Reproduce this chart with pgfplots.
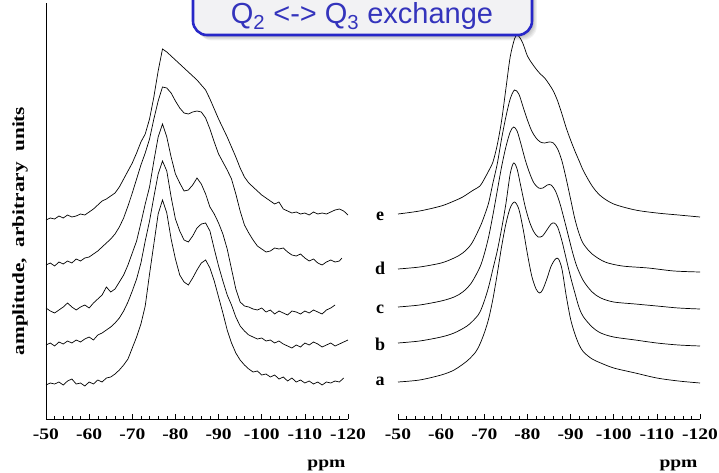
\documentclass[border=0pt]{standalone}
\usepackage{pgfplots}
\pgfplotsset{compat=1.18}
\usepackage{fontspec}
\setmainfont{Liberation Serif}
\newfontfamily\arial{Liberation Sans}
\definecolor{titleblue}{RGB}{52,52,188}
\definecolor{boxblue}{RGB}{40,40,200}
\definecolor{boxfill}{RGB}{242,242,244}
\newcommand\tickfont{\bfseries\fontsize{16}{18}\selectfont}
\newcommand\wide[1]{\scalebox{1.22}[1]{#1}}

\pgfplotsset{
  spectra/.style={
    scale only axis, width=302pt, height=416pt,
    xmin=-120, xmax=-50, x dir=reverse, ymin=0, ymax=416,
    axis x line=bottom,
    xtick={-50,-60,-70,-80,-90,-100,-110,-120},
    xticklabels={\wide{-50},\wide{-60},\wide{-70},\wide{-80},\wide{-90},\wide{-100},\wide{-110},\wide{-120}},
    minor x tick num=4, tick align=inside,
    major tick length=5pt, minor tick length=3pt,
    every tick/.style={black, line width=0.5pt},
    ytick=\empty,
    xticklabel style={font=\tickfont, anchor=base, yshift=-20pt},
    clip=false,
    every axis plot/.append style={black, line width=0.7pt, mark=none},
  },
  plain lines/.style={
    x axis line style={-, line width=0.7pt},
    y axis line style={-, line width=0.7pt},
  },
}

\begin{document}
\begin{tikzpicture}
\path[use as bounding box] (0,0) rectangle (719pt,472pt);
\clip (0,0) rectangle (719pt,472pt);

% measured spectra
\begin{axis}[spectra, at={(46pt,53pt)}, anchor=south west, axis y line=left, plain lines]
% a
\addplot[sharp plot] coordinates {(-50,34) (-51,36) (-52,35) (-53,37) (-54,34) (-55,38) (-56,40) (-57,35) (-58,36) (-59,33) (-60,37) (-61,35) (-62,39) (-63,37) (-64,41) (-65,42) (-66,45) (-67,49) (-68,54) (-69,60) (-70,71) (-71,82) (-72,95) (-73,113) (-74,145) (-75,175) (-76,205) (-77,219) (-78,206) (-79,180) (-80,160) (-81,144) (-82,137) (-83,134) (-84,141) (-85,149) (-86,156) (-87,159) (-88,151) (-89,138) (-90,122) (-91,106) (-92,89) (-93,76) (-94,66) (-95,59) (-96,54) (-97,50) (-98,47) (-99,48) (-100,44) (-101,45) (-102,42) (-103,44) (-104,40) (-105,42) (-106,38) (-107,41) (-108,37) (-109,39) (-110,36) (-111,38) (-112,35) (-113,37) (-114,34) (-115,37) (-116,36) (-117,38) (-118,37) (-119,41)};
% b
\addplot[sharp plot] coordinates {(-50,74) (-51,76) (-52,73) (-53,77) (-54,75) (-55,78) (-56,76) (-57,79) (-58,77) (-59,80) (-60,82) (-61,79) (-62,84) (-63,86) (-64,89) (-65,92) (-66,96) (-67,101) (-68,108) (-69,117) (-70,128) (-71,140) (-72,156) (-73,178) (-74,198) (-75,222) (-76,245) (-77,258) (-78,248) (-79,222) (-80,200) (-81,188) (-82,179) (-83,177) (-84,183) (-85,191) (-86,195) (-87,196) (-88,188) (-89,170) (-90,153) (-91,138) (-92,124) (-93,114) (-94,102) (-95,93) (-96,88) (-97,84) (-98,82) (-99,80) (-100,81) (-101,78) (-102,79) (-103,76) (-104,78) (-105,75) (-106,73) (-107,71) (-108,74) (-109,72) (-110,76) (-111,74) (-112,77) (-113,75) (-114,72) (-115,74) (-116,76) (-117,73) (-118,75) (-119,77) (-120,79)};
% c
\addplot[sharp plot] coordinates {(-50,111) (-51,108) (-52,106) (-53,109) (-54,112) (-55,116) (-56,112) (-57,109) (-58,112) (-59,114) (-60,111) (-61,116) (-62,120) (-63,124) (-64,132) (-65,127) (-66,130) (-67,137) (-68,144) (-69,154) (-70,166) (-71,178) (-72,196) (-73,215) (-74,232) (-75,258) (-76,282) (-77,295) (-78,282) (-79,262) (-80,245) (-81,236) (-82,228) (-83,229) (-84,234) (-85,241) (-86,235) (-87,225) (-88,212) (-89,205) (-90,196) (-91,185) (-92,170) (-93,150) (-94,130) (-95,117) (-96,113) (-97,112) (-98,110) (-99,109) (-100,111) (-101,107) (-102,109) (-103,105) (-104,108) (-105,106) (-106,104) (-107,108) (-108,107) (-109,105) (-110,108) (-111,106) (-112,109) (-113,107) (-114,105) (-115,109) (-116,111) (-117,114)};
% d
\addplot[sharp plot] coordinates {(-50,154) (-51,156) (-52,153) (-53,157) (-54,155) (-55,158) (-56,156) (-57,160) (-58,158) (-59,161) (-60,162) (-61,165) (-62,168) (-63,172) (-64,176) (-65,180) (-66,185) (-67,192) (-68,201) (-69,213) (-70,226) (-71,240) (-72,254) (-73,266) (-74,280) (-75,300) (-76,318) (-77,332) (-78,331) (-79,326) (-80,318) (-81,311) (-82,306) (-83,305) (-84,307) (-85,308) (-86,307) (-87,301) (-88,290) (-89,277) (-90,265) (-91,257) (-92,249) (-93,240) (-94,225) (-95,208) (-96,194) (-97,186) (-98,179) (-99,173) (-100,170) (-101,167) (-102,168) (-103,171) (-104,170) (-105,171) (-106,167) (-107,164) (-108,163) (-109,165) (-110,161) (-111,158) (-112,160) (-113,156) (-114,154) (-115,157) (-116,159) (-117,157) (-118,158) (-118.6,161)};
% e
\addplot[sharp plot] coordinates {(-50,199) (-51,201) (-52,200) (-53,203) (-54,201) (-55,204) (-56,202) (-57,203) (-58,205) (-59,204) (-60,207) (-61,210) (-62,214) (-63,218) (-64,220) (-65,223) (-66,226) (-67,232) (-68,240) (-69,248) (-70,256) (-71,266) (-72,277) (-73,285) (-74,300) (-75,322) (-76,348) (-77,370) (-78,367) (-79,363) (-80,359) (-81,355) (-82,351) (-83,347) (-84,343) (-85,339) (-86,334) (-87,329) (-88,320) (-89,310) (-90,300) (-91,291) (-92,282) (-93,272) (-94,262) (-95,251) (-96,242) (-97,236) (-98,232) (-99,228) (-100,224) (-101,221) (-102,218) (-103,215) (-104,217) (-105,210) (-106,208) (-107,206) (-108,207) (-109,205) (-110,206) (-111,204) (-112,207) (-113,205) (-114,206) (-115,205) (-116,207) (-117,209) (-118,210) (-119,208) (-120,204)};
\node[font=\tickfont, anchor=base east] at (rel axis cs:1,0) [yshift=-48pt, xshift=1pt] {\wide{ppm}};
\end{axis}

% simulated spectra
\begin{axis}[spectra, at={(398pt,53pt)}, anchor=south west, axis y line=none, plain lines]
% a
\addplot[smooth] coordinates {(-50,37) (-55,39) (-60,44) (-63,49) (-66,58) (-68,67) (-69,75) (-70,86) (-71,100) (-72,120) (-73,145) (-74,172) (-75,195) (-76,211) (-77,217) (-78,210) (-79,190) (-80,165) (-81,143) (-82,130) (-82.8,126) (-83.5,129) (-84.5,140) (-85.5,153) (-86.5,160) (-87.2,160) (-88,150) (-89,123) (-90,100) (-91,85) (-92,74) (-93,67) (-95,60) (-97,56) (-100,51) (-105,46) (-110,41) (-115,38) (-120,36)};
% b
\addplot[smooth] coordinates {(-50,76) (-55,78) (-60,82) (-63,86) (-66,93) (-68,101) (-69,107) (-70,118) (-71,132) (-72,150) (-73,168) (-74,190) (-75,215) (-76,245) (-76.8,256) (-77.6,250) (-78.5,232) (-79.5,212) (-80.5,197) (-81.5,187) (-82.5,182) (-83.5,183) (-84.5,189) (-85.5,195) (-86.2,196) (-87,192) (-88,178) (-89,160) (-90,142) (-91,126) (-92,111) (-93,102) (-95,92) (-97,86) (-100,82) (-105,79) (-110,76) (-115,74) (-120,73)};
% c
\addplot[smooth] coordinates {(-50,112) (-55,114) (-60,118) (-63,122) (-65,127) (-67,136) (-69,152) (-70,165) (-71,182) (-72,204) (-73,228) (-74,252) (-75,272) (-76,287) (-76.8,292) (-77.6,288) (-78.5,275) (-79.5,259) (-80.5,246) (-81.5,236) (-82.6,231) (-83.6,231) (-84.6,234) (-85.5,234) (-86.5,228) (-87.5,216) (-88.5,200) (-89.5,183) (-90.5,166) (-91.5,152) (-93,138) (-95,127) (-97,121) (-100,117) (-105,115) (-110,113) (-115,111) (-120,110)};
% d
\addplot[smooth] coordinates {(-50,150) (-55,152) (-60,156) (-63,161) (-65,166) (-67,175) (-69,192) (-70,203) (-71,216) (-72,236) (-73,255) (-74,280) (-75,302) (-76,320) (-77,329) (-78,325) (-79,312) (-80,299) (-81,288) (-82,281) (-83,277) (-84,276) (-85,277) (-86,276) (-87,270) (-88,258) (-89,240) (-90,220) (-91,200) (-92,185) (-93,175) (-95,165) (-98,157) (-102,153) (-108,151) (-114,148) (-120,147)};
% e
\addplot[smooth] coordinates {(-50,205) (-55,208) (-60,213) (-63,218) (-65,222) (-67.5,229) (-69,233) (-70,240) (-71,248) (-72,257) (-73,274) (-74,298) (-75,330) (-76,362) (-77,380) (-77.6,384) (-78.3,381) (-79,375) (-80,363) (-81,356) (-82,350) (-83,345) (-84,341) (-85,335) (-86,328) (-87,318) (-88,305) (-89,291) (-90,279) (-91,268) (-92,258) (-93,248) (-95,233) (-97,223) (-100,215) (-105,209) (-110,206) (-115,204) (-120,202)};
\node[font=\tickfont, anchor=base east] at (rel axis cs:1,0) [yshift=-48pt, xshift=1pt] {\wide{ppm}};
\end{axis}

% trace letters
\begin{scope}[font=\bfseries\fontsize{18}{20}\selectfont]
\node[anchor=base] at (380pt,252pt) {e};
\node[anchor=base] at (380pt,198pt) {d};
\node[anchor=base] at (380pt,159pt) {c};
\node[anchor=base] at (380pt,122pt) {b};
\node[anchor=base] at (380pt,87pt) {a};
\end{scope}

% vertical axis title
\node[rotate=90, font=\bfseries\fontsize{17}{20}\selectfont] at (20pt,241pt)
  {\scalebox{1.25}[1]{amplitude,\ \ arbitrary\ \ units}};

% title callout with soft shadow
\foreach \i in {1,...,6} {
  \fill[black, opacity=0.05, rounded corners=14pt]
    (193pt+0.8pt*\i, 437pt-0.9pt*\i) rectangle (532pt+0.8pt*\i, 500pt);
}
\draw[boxblue, line width=2.6pt, fill=boxfill, rounded corners=14pt]
  (193pt,437pt) rectangle (532pt,500pt);
\node[font=\arial\fontsize{29}{33}\selectfont, text=titleblue, anchor=base]
  at (362pt,448pt) {Q\textsubscript{2} <-> Q\textsubscript{3} exchange};
\end{tikzpicture}
\end{document}
